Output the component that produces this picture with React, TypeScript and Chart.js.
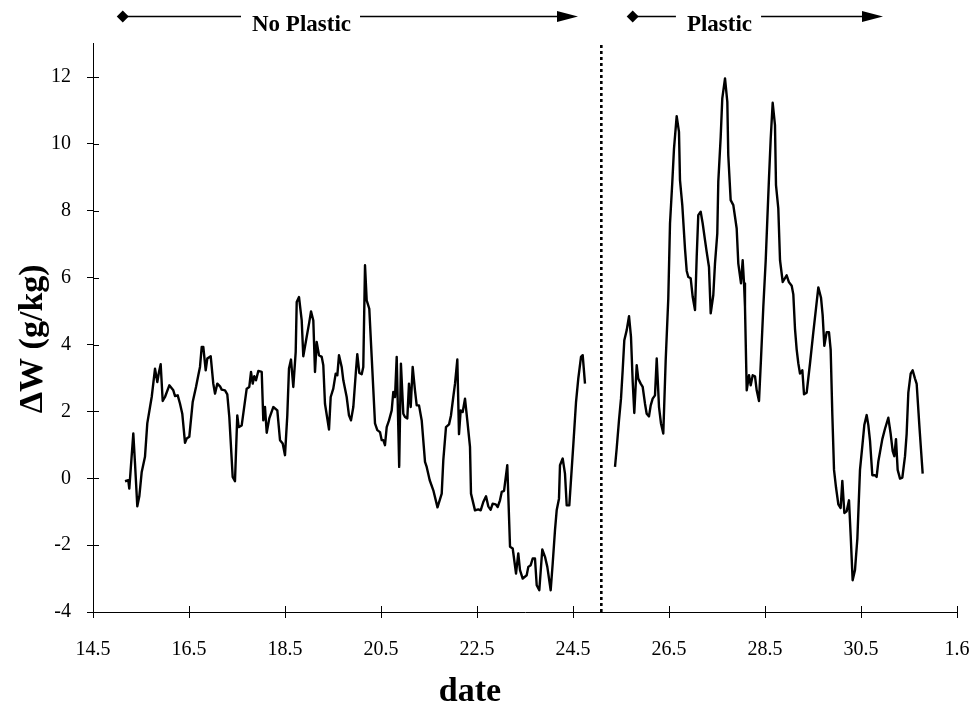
import React, { useEffect, useRef } from "react";
import { Chart, registerables } from "chart.js";

Chart.register(...registerables);

// Humidity difference ΔW (g/kg) against date (day of May, 1.6 = 1 June)
const NO_PLASTIC_DATE = [
  15.167, 15.235, 15.256, 15.34, 15.375, 15.423, 15.465, 15.515, 15.583, 15.631,
  15.688, 15.723, 15.792, 15.84, 15.875, 15.91, 15.952, 16.0, 16.09, 16.173,
  16.208, 16.265, 16.313, 16.36, 16.417, 16.452, 16.506, 16.577, 16.646, 16.694,
  16.729, 16.765, 16.798, 16.848, 16.881, 16.952, 17.006, 17.042, 17.09, 17.146,
  17.181, 17.25, 17.298, 17.34, 17.41, 17.458, 17.506, 17.535, 17.598, 17.702,
  17.756, 17.792, 17.827, 17.86, 17.896, 17.944, 18.015, 18.048, 18.083, 18.119,
  18.173, 18.256, 18.34, 18.396, 18.452, 18.5, 18.548, 18.583, 18.625, 18.673,
  18.723, 18.744, 18.792, 18.848, 18.881, 18.952, 19.006, 19.042, 19.09, 19.125,
  19.16, 19.208, 19.265, 19.298, 19.333, 19.417, 19.452, 19.506, 19.556, 19.59,
  19.625, 19.681, 19.715, 19.785, 19.833, 19.875, 19.923, 19.979, 20.006, 20.048,
  20.098, 20.131, 20.167, 20.202, 20.256, 20.306, 20.375, 20.423, 20.479, 20.515,
  20.548, 20.583, 20.619, 20.667, 20.723, 20.756, 20.792, 20.827, 20.879, 20.915,
  20.965, 21.0, 21.048, 21.083, 21.119, 21.16, 21.208, 21.244, 21.292, 21.348,
  21.417, 21.452, 21.515, 21.59, 21.677, 21.765, 21.798, 21.854, 21.917, 21.958,
  22.006, 22.042, 22.09, 22.125, 22.16, 22.202, 22.25, 22.298, 22.354, 22.375,
  22.458, 22.527, 22.577, 22.631, 22.688, 22.735, 22.785, 22.827, 22.89, 22.931,
  22.979, 23.015, 23.063, 23.131, 23.188, 23.244, 23.313, 23.36, 23.396, 23.452,
  23.535, 23.569, 23.619, 23.66, 23.708, 23.744, 23.798, 23.86, 23.917, 23.965,
  24.035, 24.077, 24.125, 24.16, 24.208, 24.229, 24.285, 24.333, 24.369, 24.423,
  24.506, 24.563, 24.61, 24.667, 24.702, 24.75,
];
const NO_PLASTIC_DW = [
  -0.09, -0.06, -0.31, 1.34, 0.45, -0.84, -0.54, 0.19, 0.64, 1.64,
  2.13, 2.43, 3.28, 2.88, 3.18, 3.41, 2.31, 2.43, 2.78, 2.63,
  2.46, 2.48, 2.23, 1.93, 1.06, 1.19, 1.24, 2.28, 2.73, 3.08,
  3.33, 3.93, 3.93, 3.23, 3.58, 3.65, 2.83, 2.53, 2.83, 2.75,
  2.65, 2.63, 2.51, 1.83, 0.04, -0.09, 1.88, 1.53, 1.58, 2.68,
  2.73, 3.18, 2.83, 3.05, 2.93, 3.21, 3.18, 1.73, 2.13, 1.36,
  1.79, 2.13, 2.03, 1.14, 1.04, 0.69, 1.88, 3.28, 3.55, 2.73,
  3.78, 5.27, 5.42, 4.72, 3.65, 4.23, 4.67, 4.99, 4.72, 3.18,
  4.08, 3.68, 3.63, 3.38, 2.23, 1.46, 2.43, 2.68, 3.13, 3.08,
  3.68, 3.33, 2.93, 2.43, 1.88, 1.73, 2.13, 3.23, 3.71, 3.15,
  3.11, 3.33, 6.37, 5.32, 5.07, 3.63, 1.64, 1.44, 1.38, 1.14,
  1.14, 0.99, 1.53, 1.73, 2.03, 2.58, 2.43, 3.63, 0.34, 3.43,
  1.93, 1.83, 1.79, 2.83, 2.13, 3.33, 2.63, 2.18, 2.18, 1.73,
  0.49, 0.34, -0.06, -0.36, -0.87, -0.46, 0.54, 1.53, 1.61, 1.88,
  2.43, 2.83, 3.55, 1.32, 2.03, 1.98, 2.38, 1.73, 0.94, -0.46,
  -0.96, -0.93, -0.96, -0.71, -0.54, -0.84, -0.94, -0.76, -0.78, -0.86,
  -0.66, -0.41, -0.38, 0.39, -2.05, -2.1, -2.85, -2.25, -2.75, -3.0,
  -2.9, -2.65, -2.6, -2.4, -2.4, -3.2, -3.35, -2.13, -2.35, -2.65,
  -3.35, -2.55, -1.55, -0.96, -0.61, 0.39, 0.59, 0.14, -0.81, -0.81,
  0.99, 2.28, 2.98, 3.63, 3.68, 2.83,
];

const PLASTIC_DATE = [
  25.375, 25.41, 25.458, 25.5, 25.535, 25.569, 25.619, 25.667, 25.708, 25.744,
  25.777, 25.827, 25.86, 25.91, 25.952, 26.0, 26.035, 26.083, 26.119, 26.16,
  26.208, 26.244, 26.292, 26.333, 26.381, 26.431, 26.485, 26.521, 26.569, 26.604,
  26.66, 26.708, 26.729, 26.777, 26.833, 26.869, 26.902, 26.952, 26.994, 27.042,
  27.077, 27.11, 27.16, 27.202, 27.25, 27.285, 27.333, 27.369, 27.423, 27.458,
  27.506, 27.527, 27.577, 27.61, 27.667, 27.715, 27.735, 27.785, 27.84, 27.875,
  27.91, 27.944, 28.0, 28.035, 28.063, 28.083, 28.119, 28.167, 28.202, 28.244,
  28.292, 28.327, 28.375, 28.417, 28.465, 28.515, 28.548, 28.583, 28.619, 28.66,
  28.708, 28.729, 28.777, 28.813, 28.869, 28.951, 29.0, 29.056, 29.09, 29.125,
  29.16, 29.194, 29.229, 29.278, 29.313, 29.368, 29.438, 29.507, 29.563, 29.611,
  29.667, 29.701, 29.736, 29.785, 29.833, 29.868, 29.903, 29.938, 29.979, 30.028,
  30.076, 30.111, 30.153, 30.201, 30.25, 30.285, 30.326, 30.375, 30.424, 30.479,
  30.528, 30.569, 30.618, 30.653, 30.688, 30.736, 30.792, 30.826, 30.861, 30.944,
  31.0, 31.069, 31.118, 31.16, 31.194, 31.229, 31.264, 31.313, 31.361, 31.417,
  31.451, 31.486, 31.535, 31.576, 31.625, 31.66, 31.715, 31.75, 31.785,
];
const PLASTIC_DW = [
  0.34, 0.89, 1.73, 2.38, 3.23, 4.13, 4.43, 4.85, 4.23, 2.88,
  1.95, 3.38, 2.98, 2.83, 2.73, 2.23, 1.93, 1.85, 2.18, 2.38,
  2.48, 3.58, 2.13, 1.64, 1.34, 3.53, 5.37, 7.62, 8.86, 9.86,
  10.83, 10.36, 8.92, 8.17, 6.87, 6.2, 6.02, 5.98, 5.42, 5.03,
  6.62, 7.87, 7.97, 7.62, 7.12, 6.77, 6.32, 4.93, 5.48, 6.42,
  7.32, 8.87, 10.21, 11.36, 11.96, 11.26, 9.66, 8.32, 8.17, 7.82,
  7.47, 6.42, 5.83, 6.52, 5.83, 5.13, 2.63, 3.08, 2.78, 3.08,
  3.05, 2.63, 2.31, 3.58, 5.13, 6.52, 7.72, 8.97, 10.16, 11.23,
  10.56, 8.77, 8.07, 6.52, 5.87, 6.07, 5.86, 5.76, 5.5, 4.47,
  3.85, 3.44, 3.13, 3.23, 2.51, 2.56, 3.44, 4.37, 5.09, 5.71,
  5.4, 4.88, 3.96, 4.37, 4.37, 3.85, 1.89, 0.25, -0.27, -0.78,
  -0.89, -0.08, -1.04, -0.99, -0.66, -1.71, -3.05, -2.74, -1.81, 0.25,
  0.97, 1.59, 1.89, 1.59, 1.12, 0.09, 0.09, 0.04, 0.5, 1.17,
  1.48, 1.81, 1.33, 0.81, 0.66, 1.17, 0.25, -0.01, 0.02, 0.66,
  1.33, 2.56, 3.13, 3.23, 2.98, 2.82, 1.59, 0.86, 0.14,
];

// Date at which the plastic cover was put in place
const DIVIDER_DATE = 25.09;

// Axis ranges, ticks and titles
const X_MIN = 14.5;
const X_MAX = 32.5;
const X_TICKS = [14.5, 16.5, 18.5, 20.5, 22.5, 24.5, 26.5, 28.5, 30.5, 32.5];
const X_TICK_LABELS = ["14.5", "16.5", "18.5", "20.5", "22.5", "24.5", "26.5", "28.5", "30.5", "1.6"];
const Y_MIN = -4;
const Y_MAX = 13;
const Y_TICKS = [-4, -2, 0, 2, 4, 6, 8, 10, 12];
const X_TITLE = "date";
const Y_TITLE = "ΔW (g/kg)";

// Period markers above the plot: start, label position, end (dates)
const PERIOD_NAMES = ["No Plastic", "Plastic"];
const PERIOD_FROM = [15.12, 25.744];
const PERIOD_LABEL_AT = [18.844, 27.552];
const PERIOD_TO = [24.604, 30.958];

const SERIF = '"Liberation Serif", "Times New Roman", Times, serif';
const TICK = 6;

const toPoints = (xs: number[], ys: number[]) => xs.map((x, i) => ({ x, y: ys[i] }));

// Tick marks that also reach into the plot area
const crossTicks = {
  id: "crossTicks",
  afterDraw(chart: any) {
    const { ctx, chartArea: a, scales } = chart;
    const xs = scales.x;
    const ys = scales.y;
    ctx.save();
    ctx.strokeStyle = "#000";
    ctx.lineWidth = 1;
    ctx.beginPath();
    xs.ticks.forEach((t: any) => {
      const px = Math.round(xs.getPixelForValue(t.value)) + 0.5;
      ctx.moveTo(px, a.bottom);
      ctx.lineTo(px, a.bottom - TICK);
    });
    ys.ticks.forEach((t: any) => {
      const py = Math.round(ys.getPixelForValue(t.value)) + 0.5;
      ctx.moveTo(a.left, py);
      ctx.lineTo(a.left + TICK, py);
    });
    ctx.stroke();
    ctx.restore();
  },
};

// Axis titles, set slightly off the axis centres
const axisTitles = {
  id: "axisTitles",
  afterDraw(chart: any) {
    const { ctx, chartArea: a } = chart;
    ctx.save();
    ctx.fillStyle = "#000";
    ctx.font = `bold 34px ${SERIF}`;
    ctx.textAlign = "center";
    ctx.textBaseline = "alphabetic";
    const midX = (a.left + a.right) / 2;
    const midY = (a.top + a.bottom) / 2;
    ctx.fillText(X_TITLE, midX - 55, a.bottom + 89);
    ctx.translate(a.left - 51, midY + 11);
    ctx.rotate(-Math.PI / 2);
    ctx.fillText(Y_TITLE, 0, 0);
    ctx.restore();
  },
};

// Labelled arrows naming the two periods
const periodArrows = {
  id: "periodArrows",
  afterDraw(chart: any) {
    const { ctx } = chart;
    const xs = chart.scales.x;
    const lineY = 16.5;
    ctx.save();
    ctx.strokeStyle = "#000";
    ctx.fillStyle = "#000";
    ctx.lineWidth = 1.4;
    ctx.font = `bold 23px ${SERIF}`;
    ctx.textAlign = "center";
    ctx.textBaseline = "middle";
    PERIOD_NAMES.forEach((name, i) => {
      const x0 = xs.getPixelForValue(PERIOD_FROM[i]);
      const x1 = xs.getPixelForValue(PERIOD_TO[i]);
      const xc = xs.getPixelForValue(PERIOD_LABEL_AT[i]);
      const half = ctx.measureText(name).width / 2;
      ctx.beginPath();
      ctx.moveTo(x0, lineY);
      ctx.lineTo(xc - half - 11, lineY);
      ctx.moveTo(xc + half + 9, lineY);
      ctx.lineTo(x1 - 18, lineY);
      ctx.stroke();
      ctx.beginPath();
      ctx.moveTo(x0 - 6, lineY);
      ctx.lineTo(x0, lineY - 6);
      ctx.lineTo(x0 + 6, lineY);
      ctx.lineTo(x0, lineY + 6);
      ctx.closePath();
      ctx.fill();
      ctx.beginPath();
      ctx.moveTo(x1, lineY);
      ctx.lineTo(x1 - 21, lineY - 5.5);
      ctx.lineTo(x1 - 21, lineY + 5.5);
      ctx.closePath();
      ctx.fill();
      ctx.fillText(name, xc, 25);
    });
    ctx.restore();
  },
};

export default function App() {
  const ref = useRef<HTMLCanvasElement>(null);

  useEffect(() => {
    const canvas = ref.current;
    if (!canvas) return;
    const lineStyle = {
      borderColor: "#000",
      borderWidth: 2.4,
      pointRadius: 0,
      tension: 0,
      borderJoinStyle: "round" as const,
      fill: false,
    };
    const chart = new Chart(canvas, {
      type: "line",
      data: {
        datasets: [
          { ...lineStyle, label: "No Plastic", data: toPoints(NO_PLASTIC_DATE, NO_PLASTIC_DW) },
          { ...lineStyle, label: "Plastic", data: toPoints(PLASTIC_DATE, PLASTIC_DW) },
          {
            label: "divider",
            data: [
              { x: DIVIDER_DATE, y: Y_MIN },
              { x: DIVIDER_DATE, y: Y_MAX },
            ],
            borderColor: "#000",
            borderWidth: 2.6,
            borderDash: [3, 3],
            borderCapStyle: "butt",
            pointRadius: 0,
            fill: false,
          },
        ],
      },
      options: {
        responsive: false,
        animation: false,
        events: [],
        layout: { padding: { left: 0, right: 19, top: 43.6, bottom: 0 } },
        plugins: {
          legend: { display: false },
          tooltip: { enabled: false },
        },
        scales: {
          x: {
            type: "linear",
            min: X_MIN,
            max: X_MAX,
            afterBuildTicks: (scale: any) => {
              scale.ticks = X_TICKS.map((value) => ({ value }));
            },
            afterFit: (scale: any) => {
              scale.height = 95;
            },
            border: { display: true, color: "#000", width: 1 },
            grid: { drawOnChartArea: false, drawTicks: true, tickLength: TICK, color: "#000", lineWidth: 1 },
            ticks: {
              autoSkip: false,
              maxRotation: 0,
              padding: 4,
              color: "#000",
              font: { family: SERIF, size: 20, lineHeight: 2.8 },
              callback: (_v: any, i: number) => X_TICK_LABELS[i],
            },
          },
          y: {
            type: "linear",
            min: Y_MIN,
            max: Y_MAX,
            afterBuildTicks: (scale: any) => {
              scale.ticks = Y_TICKS.map((value) => ({ value }));
            },
            afterFit: (scale: any) => {
              scale.width = 93;
            },
            border: { display: true, color: "#000", width: 1 },
            grid: { drawOnChartArea: false, drawTicks: true, tickLength: TICK, color: "#000", lineWidth: 1 },
            ticks: {
              padding: 16,
              color: "#000",
              font: { family: SERIF, size: 20 },
              callback: (v: any) => String(v),
            },
          },
        },
      },
      plugins: [crossTicks, axisTitles, periodArrows],
    });
    return () => chart.destroy();
  }, []);

  return (
    <div style={{ position: "fixed", left: 0, top: 0, width: 976, height: 707, background: "#fff" }}>
      <canvas ref={ref} width={976} height={707} style={{ display: "block", width: 976, height: 707 }} />
    </div>
  );
}
